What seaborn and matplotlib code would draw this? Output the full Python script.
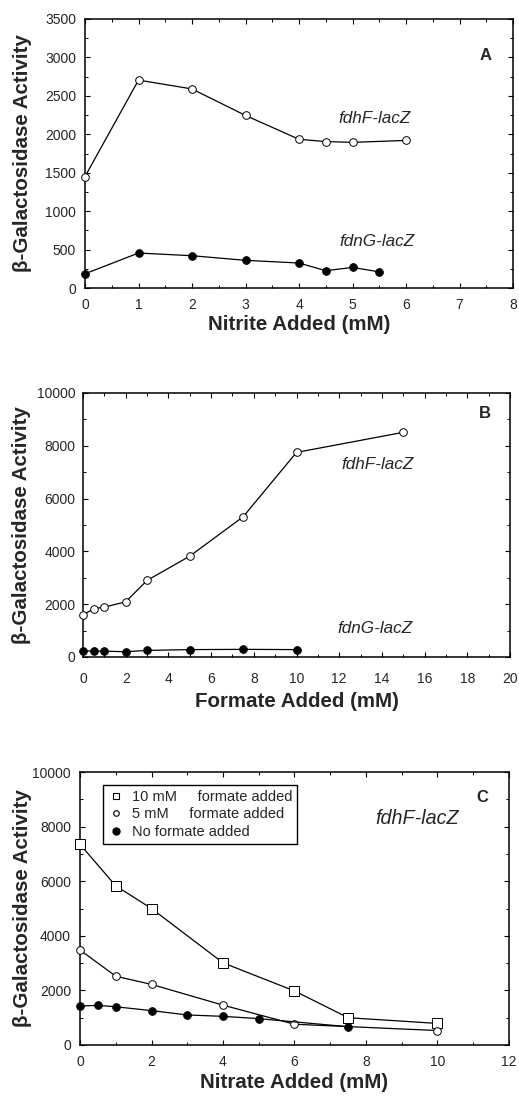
import matplotlib
matplotlib.use("Agg")
import matplotlib.pyplot as plt
from matplotlib.lines import Line2D
from matplotlib.ticker import MultipleLocator
import seaborn as sns

# panel A: nitrite
nitrite_fdhF_x = [0, 1, 2, 3, 4, 4.5, 5, 6]
nitrite_fdhF_y = [1450, 2705, 2590, 2245, 1935, 1905, 1895, 1920]
nitrite_fdnG_x = [0, 1, 2, 3, 4, 4.5, 5, 5.5]
nitrite_fdnG_y = [185, 455, 420, 360, 325, 225, 268, 210]

# panel B: formate
formate_fdhF_x = [0, 0.5, 1, 2, 3, 5, 7.5, 10, 15]
formate_fdhF_y = [1590, 1830, 1890, 2090, 2900, 3820, 5310, 7750, 8510]
formate_fdnG_x = [0, 0.5, 1, 2, 3, 5, 7.5, 10]
formate_fdnG_y = [230, 230, 220, 200, 250, 280, 290, 280]

# panel C: nitrate
nitrate_10mM_x = [0, 1, 2, 4, 6, 7.5, 10]
nitrate_10mM_y = [7350, 5830, 5000, 3010, 1980, 1000, 790]
nitrate_5mM_x = [0, 1, 2, 4, 6, 10]
nitrate_5mM_y = [3480, 2520, 2220, 1460, 760, 530]
nitrate_none_x = [0, 0.5, 1, 2, 3, 4, 5, 7.5]
nitrate_none_y = [1430, 1450, 1400, 1260, 1100, 1050, 965, 670]

legend_labels = ["10 mM     formate added", "5 mM     formate added", "No formate added"]

sns.set_style("ticks")
plt.rcParams['font.family'] = ['Liberation Sans', 'DejaVu Sans']

fig = plt.figure(figsize=(5.19, 11), dpi=100)


def style_axes(ax, xmax, xmaj, ymax, ymaj, xpad, ypad):
    ax.set_xlim(0, xmax)
    ax.set_ylim(0, ymax)
    ax.xaxis.set_major_locator(MultipleLocator(xmaj))
    ax.xaxis.set_minor_locator(MultipleLocator(xmaj / 2))
    ax.yaxis.set_major_locator(MultipleLocator(ymaj))
    ax.yaxis.set_minor_locator(MultipleLocator(ymaj / 2))
    ax.tick_params(which='both', direction='in', top=True, right=True, color='black', labelsize=10)
    ax.tick_params(which='major', length=3.5, width=0.8)
    ax.tick_params(which='minor', length=2, width=0.7)
    ax.tick_params(axis='x', which='major', pad=xpad)
    ax.tick_params(axis='y', which='major', pad=ypad)
    for s in ax.spines.values():
        s.set_color('black')
        s.set_linewidth(1.1)


def draw(ax, x, y, marker, filled, ms):
    sns.lineplot(x=x, y=y, ax=ax, color='black', linewidth=0.9, marker=marker,
                 markersize=ms, markerfacecolor='black' if filled else 'white',
                 markeredgecolor='black', markeredgewidth=0.7, clip_on=False, zorder=3)


def labels(ax, xlabel, xl_y, yl_x):
    ax.set_xlabel(xlabel, fontsize=14.8, fontweight='bold')
    ax.set_ylabel("β-Galactosidase Activity", fontsize=14.8, fontweight='bold')
    ax.xaxis.set_label_coords(0.5, xl_y)
    ax.yaxis.set_label_coords(yl_x, 0.5)
    ax.xaxis.label.set_va('center')
    ax.yaxis.label.set_va('center')


# A
axA = fig.add_axes([85 / 519, 1 - 288 / 1100, 428 / 519, 269 / 1100])
draw(axA, nitrite_fdhF_x, nitrite_fdhF_y, 'o', False, 5.5)
draw(axA, nitrite_fdnG_x, nitrite_fdnG_y, 'o', True, 5.5)
style_axes(axA, 8, 1, 3500, 500, 7, 6.5)
labels(axA, "Nitrite Added (mM)", -0.134, -0.145)
axA.text(5.42, 2200, "fdhF-lacZ", style='italic', fontsize=12.3, ha='center', va='center')
axA.text(5.45, 600, "fdnG-lacZ", style='italic', fontsize=12.3, ha='center', va='center')
axA.text(7.48, 3030, "A", fontweight='bold', fontsize=12, ha='center', va='center')

# B
axB = fig.add_axes([83 / 519, 1 - 657 / 1100, 427 / 519, 264 / 1100])
draw(axB, formate_fdhF_x, formate_fdhF_y, 'o', False, 5.5)
draw(axB, formate_fdnG_x, formate_fdnG_y, 'o', True, 5.5)
style_axes(axB, 20, 2, 10000, 2000, 11, 5.5)
labels(axB, "Formate Added (mM)", -0.167, -0.143)
axB.text(13.8, 7300, "fdhF-lacZ", style='italic', fontsize=12.3, ha='center', va='center')
axB.text(13.7, 1070, "fdnG-lacZ", style='italic', fontsize=12.3, ha='center', va='center')
axB.text(18.8, 9240, "B", fontweight='bold', fontsize=12, ha='center', va='center')

# C
axC = fig.add_axes([80 / 519, 1 - 1045 / 1100, 429 / 519, 273 / 1100])
draw(axC, nitrate_10mM_x, nitrate_10mM_y, 's', False, 6.5)
draw(axC, nitrate_5mM_x, nitrate_5mM_y, 'o', False, 5.5)
draw(axC, nitrate_none_x, nitrate_none_y, 'o', True, 5.5)
style_axes(axC, 12, 2, 10000, 2000, 7, 6.5)
labels(axC, "Nitrate Added (mM)", -0.136, -0.133)
axC.text(9.43, 8300, "fdhF-lacZ", style='italic', fontsize=14.2, ha='center', va='center')
axC.text(11.24, 9080, "C", fontweight='bold', fontsize=12, ha='center', va='center')

handles = [
    Line2D([], [], ls='none', marker='s', ms=4.5, mfc='white', mec='black', mew=0.8),
    Line2D([], [], ls='none', marker='o', ms=4, mfc='white', mec='black', mew=0.8),
    Line2D([], [], ls='none', marker='o', ms=5, mfc='black', mec='black'),
]
leg = axC.legend(handles, legend_labels, loc='upper left', bbox_to_anchor=(0.054, 0.952),
                 fontsize=10.5, frameon=True, fancybox=False, framealpha=1, edgecolor='black',
                 handlelength=1, handletextpad=0.6, borderpad=0.35, labelspacing=0.22,
                 borderaxespad=0)
leg.get_frame().set_linewidth(1.0)

fig.savefig("out.png", dpi=100)
